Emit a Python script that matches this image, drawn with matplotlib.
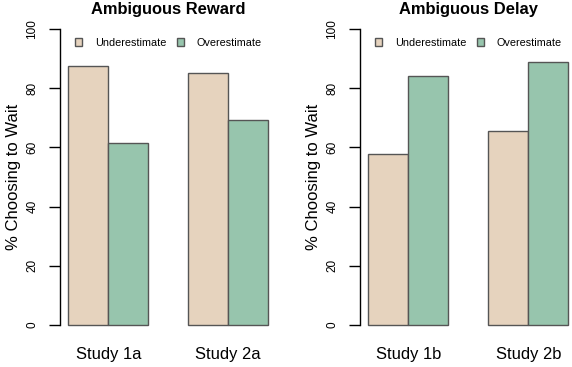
import numpy as np
import matplotlib.pyplot as plt
from matplotlib.patches import Patch

plt.rcParams['font.family'] = ['Liberation Sans', 'DejaVu Sans']

titles = ['Ambiguous Reward', 'Ambiguous Delay']
studies = [['Study 1a', 'Study 2a'], ['Study 1b', 'Study 2b']]
under = [[87.6, 85.1], [57.9, 65.4]]
over = [[61.4, 69.2], [84.1, 88.9]]
series = ['Underestimate', 'Overestimate']
colors = ['#E6D3BE', '#97C5AD']
yticks = [0, 20, 40, 60, 80, 100]

fig = plt.figure(figsize=(5.72, 3.67), dpi=100)
lefts = [60.3 / 572, 360.3 / 572]

for k in range(2):
    ax = fig.add_axes([lefts[k], 1 - 337 / 367, 216 / 572, 320 / 367])
    # R barplot layout: bars of width 1, groups separated by 1
    centers = np.array([2, 5])
    ax.bar(centers - 0.5, under[k], width=1, color=colors[0],
           edgecolor='#555555', linewidth=1.0)
    ax.bar(centers + 0.5, over[k], width=1, color=colors[1],
           edgecolor='#555555', linewidth=1.0)
    ax.set_xlim(0.8, 6.2)
    ax.set_ylim(-4, 104)

    for s in ['top', 'right', 'bottom']:
        ax.spines[s].set_visible(False)
    ax.spines['left'].set_bounds(0, 100)
    ax.spines['left'].set_linewidth(1.0)

    ax.set_yticks(yticks)
    ax.set_yticklabels([str(v) for v in yticks], rotation=90, va='center')
    ax.tick_params(axis='y', length=7.9, width=1.0, pad=8, labelsize=8.5)
    ax.set_xticks(centers)
    ax.set_xticklabels(studies[k])
    ax.tick_params(axis='x', length=0, pad=7, labelsize=11.9)

    ax.set_ylabel('% Choosing to Wait', fontsize=12, labelpad=4)
    ax.set_title(titles[k], fontsize=11.9, fontweight='bold', pad=2)

    handles = [Patch(facecolor=colors[i], edgecolor='#555555', linewidth=1.0)
               for i in range(2)]
    ax.legend(handles, series, loc='center', bbox_to_anchor=(0.5, 0.919),
              ncol=2, frameon=False, fontsize=7.8, handlelength=0.65,
              handleheight=0.65, handletextpad=1.2, columnspacing=1.0,
              borderpad=0, borderaxespad=0)

fig.savefig('out.png', dpi=100)
